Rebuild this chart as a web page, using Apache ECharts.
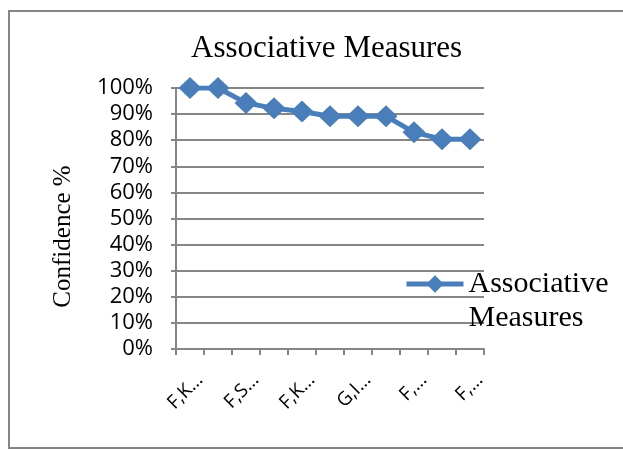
<!DOCTYPE html>
<html>
<head>
<meta charset="utf-8">
<script src="https://cdn.jsdelivr.net/npm/echarts@6/dist/echarts.min.js"></script>
<style>
  html, body { margin: 0; padding: 0; background: #fff; }
  #chart { width: 623px; height: 450px; }
</style>
</head>
<body>
<div id="chart"></div>
<script>
// 数据
const categories = ['F,K…', 'F,K…', 'F,S…', 'F,S…', 'F,K…', 'F,K…', 'G,I…', 'G,I…', 'F,…', 'F,…', 'F,…']
const confidence = [100, 100, 94.3, 92.2, 91.0, 89.2, 89.2, 89.2, 83.0, 80.4, 80.4]
const seriesName = 'Associative\nMeasures'

const blue = '#4a7ebb'
const gray = '#868686'
const serif = '"Liberation Serif", "Times New Roman", serif'
const sans = '"Open Sans", "Noto Sans", sans-serif'

const chart = echarts.init(document.getElementById('chart'))

const option = {
  backgroundColor: '#fff',
  animation: false,
  title: {
    text: 'Associative Measures',
    left: 191,
    top: 33,
    padding: 0,
    textStyle: { fontFamily: serif, fontSize: 31, fontWeight: 'normal', color: '#000' }
  },
  legend: {
    data: [seriesName],
    left: 404,
    top: 233,
    padding: 0,
    itemWidth: 57,
    itemHeight: 22,
    itemGap: 0,
    lineStyle: { width: 5 },
    // 空行让图标对齐第一行文字
    formatter: name => '\n' + name,
    textStyle: {
      fontFamily: serif,
      fontSize: 30,
      color: '#000',
      lineHeight: 34
    }
  },
  grid: {
    left: 176,
    right: 139,
    top: 88,
    bottom: 101,
    containLabel: false
  },
  xAxis: {
    type: 'category',
    data: categories,
    boundaryGap: true,
    axisLine: { lineStyle: { color: gray, width: 2 } },
    axisTick: { show: true, length: 6, lineStyle: { color: gray, width: 2 }, interval: 0 },
    axisLabel: {
      interval: 1,
      rotate: 45,
      margin: 38,
      padding: [0, -14, 0, 0],
      fontFamily: sans,
      fontSize: 19,
      color: '#000'
    },
    splitLine: { show: false }
  },
  yAxis: {
    type: 'value',
    min: 0,
    max: 100,
    interval: 10,
    name: 'Confidence %',
    nameLocation: 'middle',
    nameRotate: 90,
    nameGap: 100,
    nameTextStyle: { fontFamily: serif, fontSize: 25, color: '#000', padding: [0, 36, 0, 0] },
    axisLine: { show: true, lineStyle: { color: gray, width: 2 } },
    axisTick: { show: true, length: 5, lineStyle: { color: gray, width: 2 } },
    axisLabel: {
      formatter: '{value}%',
      margin: 23,
      fontFamily: sans,
      fontSize: 22,
      color: '#000'
    },
    splitLine: { show: true, lineStyle: { color: gray, width: 2 } }
  },
  series: [
    {
      name: seriesName,
      type: 'line',
      data: confidence,
      symbol: 'diamond',
      symbolSize: [23, 22],
      showAllSymbol: true,
      lineStyle: { color: blue, width: 5 },
      itemStyle: { color: blue }
    }
  ],
  graphic: [
    {
      type: 'rect',
      shape: { x: 9, y: 11, width: 700, height: 437 },
      style: { fill: 'none', stroke: gray, lineWidth: 2 },
      silent: true
    }
  ]
}

chart.setOption(option)
</script>
</body>
</html>
